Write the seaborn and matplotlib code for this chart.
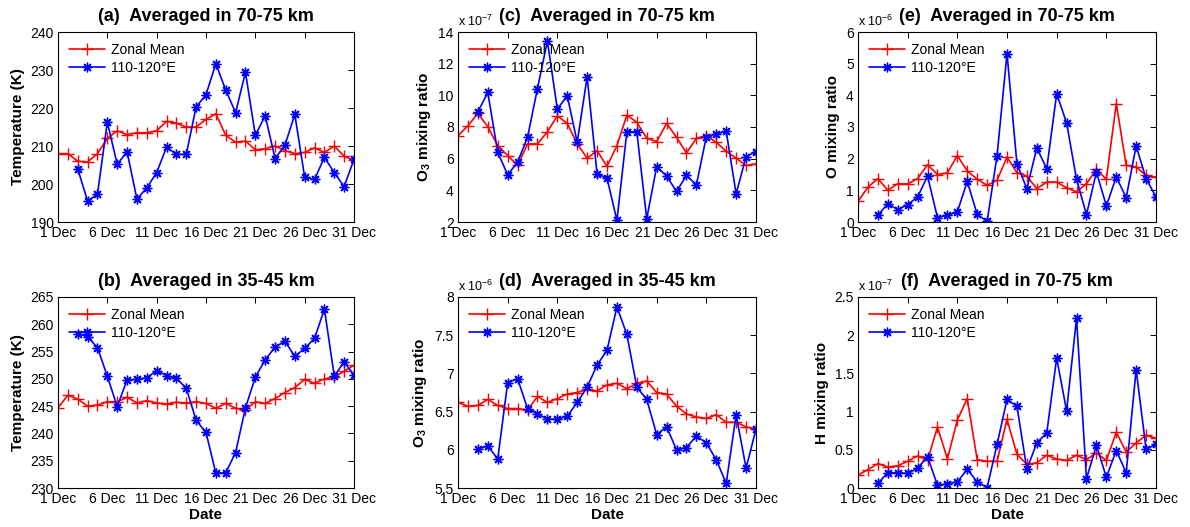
import numpy as np
import pandas as pd
import matplotlib
matplotlib.use("Agg")
import matplotlib.pyplot as plt
import seaborn as sns
from matplotlib.ticker import FuncFormatter

nan = np.nan

# ---------------- data ----------------
days = list(range(1, 32))
date_ticks = [1, 6, 11, 16, 21, 26, 31]
date_labels = ["1 Dec", "6 Dec", "11 Dec", "16 Dec", "21 Dec", "26 Dec", "31 Dec"]
series_names = ["Zonal Mean", "110-120°E"]

# (a) Temperature (K), 70-75 km
temp_high_zonal = [208, 208, 206, 205.8, 208, 212, 214, 213, 213.5, 213.5, 214, 216.5, 216, 215, 215,
                   217, 218.5, 212.8, 211, 211.3, 209, 209.3, 210, 208.8, 208, 208.3, 209.5, 208.3,
                   210, 207.3, 206.2]
temp_high_local = [nan, nan, 204, 195.5, 197.3, 216.3, 205.2, 208.5, 196, 199, 203, 209.7, 207.8, 207.8,
                   220.3, 223.5, 231.7, 224.7, 218.8, 229.4, 212.8, 218, 206.7, 210.2, 218.3, 201.8,
                   201.2, 207, 203, 199.3, 206.5]

# (b) Temperature (K), 35-45 km
temp_low_zonal = [244.7, 247.0, 246.3, 245.0, 245.2, 245.8, 245.8, 246.6, 245.6, 246.0, 245.6, 245.4,
                  245.7, 245.6, 245.8, 245.5, 244.6, 245.5, 244.6, 244.3, 245.8, 245.5, 246.4, 247.5,
                  248.4, 249.9, 249.2, 250.0, 250.3, 251.4, 252.5]
temp_low_local = [nan, nan, 258.3, 257.7, 255.7, 250.5, 244.9, 249.8, 249.9, 250.2, 251.5, 250.6, 250.1,
                  248.3, 242.4, 240.2, 232.7, 232.8, 236.5, 244.7, 250.3, 253.5, 255.8, 256.9, 254.1,
                  255.6, 257.4, 262.8, 250.5, 253.1, 250.7]

# (c) O3 mixing ratio (x 1e-7), 70-75 km
o3_high_zonal = [7.45, 8.08, 8.86, 8.02, 6.82, 6.2, 5.57, 6.93, 6.93, 7.7, 8.7, 8.23, 6.93, 6.03, 6.5,
                 5.52, 6.82, 8.75, 8.3, 7.29, 7.08, 8.23, 7.35, 6.36, 7.29, 7.45, 7.03, 6.47, 6.03,
                 5.57, 5.67]
o3_high_local = [nan, nan, 8.96, 10.18, 6.4, 4.98, 5.78, 7.35, 10.43, 13.43, 9.13, 9.97, 7.03, 11.17,
                 5.04, 4.77, 2.1, 7.7, 7.7, 2.2, 5.5, 4.9, 3.93, 4.94, 4.35, 7.39, 7.56, 7.73, 3.78,
                 6.13, 6.45]

# (d) O3 mixing ratio (x 1e-6), 35-45 km
o3_low_zonal = [6.62, 6.57, 6.58, 6.66, 6.58, 6.54, 6.54, 6.52, 6.70, 6.62, 6.67, 6.73, 6.75, 6.79,
                6.77, 6.85, 6.87, 6.80, 6.87, 6.90, 6.75, 6.73, 6.57, 6.47, 6.43, 6.41, 6.46, 6.36,
                6.36, 6.30, 6.27]
o3_low_local = [nan, nan, 6.01, 6.05, 5.88, 6.88, 6.93, 6.54, 6.47, 6.40, 6.40, 6.44, 6.62, 6.82, 7.11,
                7.30, 7.87, 7.51, 6.82, 6.66, 6.20, 6.30, 6.00, 6.03, 6.18, 6.09, 5.87, 5.56, 6.46,
                5.76, 6.27]

# (e) O mixing ratio (x 1e-6), 70-75 km
o_zonal = [0.65, 1.1, 1.37, 1.0, 1.21, 1.2, 1.37, 1.81, 1.5, 1.55, 2.1, 1.61, 1.35, 1.16, 1.32, 2.05,
           1.56, 1.45, 1.05, 1.26, 1.26, 1.08, 0.95, 1.21, 1.66, 1.35, 3.74, 1.79, 1.74, 1.47, 1.42]
o_local = [nan, nan, 0.21, 0.58, 0.39, 0.55, 0.79, 1.45, 0.14, 0.21, 0.32, 1.28, 0.24, 0.02, 2.1, 5.32,
           1.84, 1.05, 2.34, 1.68, 4.05, 3.13, 1.35, 0.23, 1.58, 0.51, 1.42, 0.77, 2.4, 1.37, 0.79]

# (f) H mixing ratio (x 1e-7), 70-75 km
h_zonal = [0.17, 0.24, 0.32, 0.275, 0.29, 0.35, 0.42, 0.36, 0.80, 0.38, 0.89, 1.17, 0.37, 0.35, 0.35,
           0.90, 0.44, 0.31, 0.33, 0.43, 0.38, 0.36, 0.43, 0.37, 0.46, 0.36, 0.73, 0.47, 0.59, 0.69,
           0.65]
h_local = [nan, nan, 0.06, 0.2, 0.2, 0.19, 0.26, 0.41, 0.035, 0.055, 0.08, 0.245, 0.08, 0.005, 0.57,
           1.16, 1.07, 0.245, 0.59, 0.72, 1.70, 1.01, 2.22, 0.12, 0.56, 0.14, 0.49, 0.2, 1.55, 0.51,
           0.57]

# ---------------- style ----------------
sns.set_style("white")
plt.rcParams["font.family"] = ["Liberation Sans", "DejaVu Sans"]
plt.rcParams["text.color"] = "black"
plt.rcParams["axes.labelcolor"] = "black"
plt.rcParams["axes.titlecolor"] = "black"
plt.rcParams["mathtext.fontset"] = "custom"
plt.rcParams["mathtext.rm"] = "Liberation Sans"
plt.rcParams["mathtext.bf"] = "Liberation Sans:bold"
plt.rcParams["mathtext.it"] = "Liberation Sans:italic"

fig = plt.figure(figsize=(11.9, 5.27), dpi=100)
W, H = 1190, 527

def make_ax(left, top, right, bottom):
    return fig.add_axes([left / W, 1 - bottom / H, (right - left) / W, (bottom - top) / H])

panels = [
    # (left, top, right, bottom), title, ylabel, zonal, local, ylim, yticks, scale text, xlabel
    ((58, 32, 354, 222), "(a)  Averaged in 70-75 km", "Temperature (K)", temp_high_zonal,
     temp_high_local, (190, 240), np.arange(190, 241, 10), None, False),
    ((58, 297, 354, 488), "(b)  Averaged in 35-45 km", "Temperature (K)", temp_low_zonal,
     temp_low_local, (230, 265), np.arange(230, 266, 5), None, True),
    ((458, 32, 756, 222), "(c)  Averaged in 70-75 km", r"O$_\mathbf{3}$ mixing ratio", o3_high_zonal,
     o3_high_local, (2, 14), np.arange(2, 15, 2), "-7", False),
    ((458, 297, 756, 488), "(d)  Averaged in 35-45 km", r"O$_\mathbf{3}$ mixing ratio", o3_low_zonal,
     o3_low_local, (5.5, 8), np.arange(5.5, 8.01, 0.5), "-6", True),
    ((858, 32, 1156, 222), "(e)  Averaged in 70-75 km", "O mixing ratio", o_zonal,
     o_local, (0, 6), np.arange(0, 7, 1), "-6", False),
    ((858, 297, 1156, 488), "(f)  Averaged in 70-75 km", "H mixing ratio", h_zonal,
     h_local, (0, 2.5), np.arange(0, 2.51, 0.5), "-7", True),
]

red = "#ff0000"
blue = "#0000ff"
asterisk = (8, 2, 0)

for box, title, ylabel, zonal, local, ylim, yticks, scale, show_x in panels:
    ax = make_ax(*box)
    df = pd.DataFrame({"day": days, "zonal": zonal, "local": local})
    sns.lineplot(data=df, x="day", y="zonal", ax=ax, color=red, marker="+", markersize=8,
                 markeredgecolor=red, markeredgewidth=1.0, linewidth=1.2, label=series_names[0])
    sns.lineplot(data=df.dropna(), x="day", y="local", ax=ax, color=blue, marker=asterisk,
                 markersize=7, markeredgecolor=blue, markeredgewidth=1.0, linewidth=1.2,
                 label=series_names[1])
    ax.set_xlim(1, 31)
    ax.set_ylim(*ylim)
    ax.set_xticks(date_ticks)
    ax.set_xticklabels(date_labels)
    ax.set_yticks(yticks)
    ax.yaxis.set_major_formatter(FuncFormatter(lambda v, p: "%g" % round(v, 3)))
    ax.tick_params(direction="in", top=True, right=True, length=4, width=0.7,
                   labelsize=10, colors="black", pad=3)
    for s in ax.spines.values():
        s.set_visible(True)
        s.set_color("black")
        s.set_linewidth(0.8)
    ax.set_title(title, fontsize=13, fontweight="bold", pad=8, color="black")
    ax.set_ylabel(ylabel, fontsize=11, fontweight="bold", color="black")
    if show_x:
        ax.set_xlabel("Date", fontsize=11, fontweight="bold", labelpad=1, color="black")
    else:
        ax.set_xlabel("")
    if scale is not None:
        ax.text(0.0, 1.015, r"x 10$^{%s}$" % scale, transform=ax.transAxes, ha="left",
                va="bottom", fontsize=9, color="black")
    leg = ax.legend(loc="upper left", frameon=False, fontsize=10, handlelength=2.6,
                    borderaxespad=0.4, labelspacing=0.25, handletextpad=0.4)
    for t in leg.get_texts():
        t.set_color("black")

fig.savefig("out.png", dpi=100, facecolor="white")
